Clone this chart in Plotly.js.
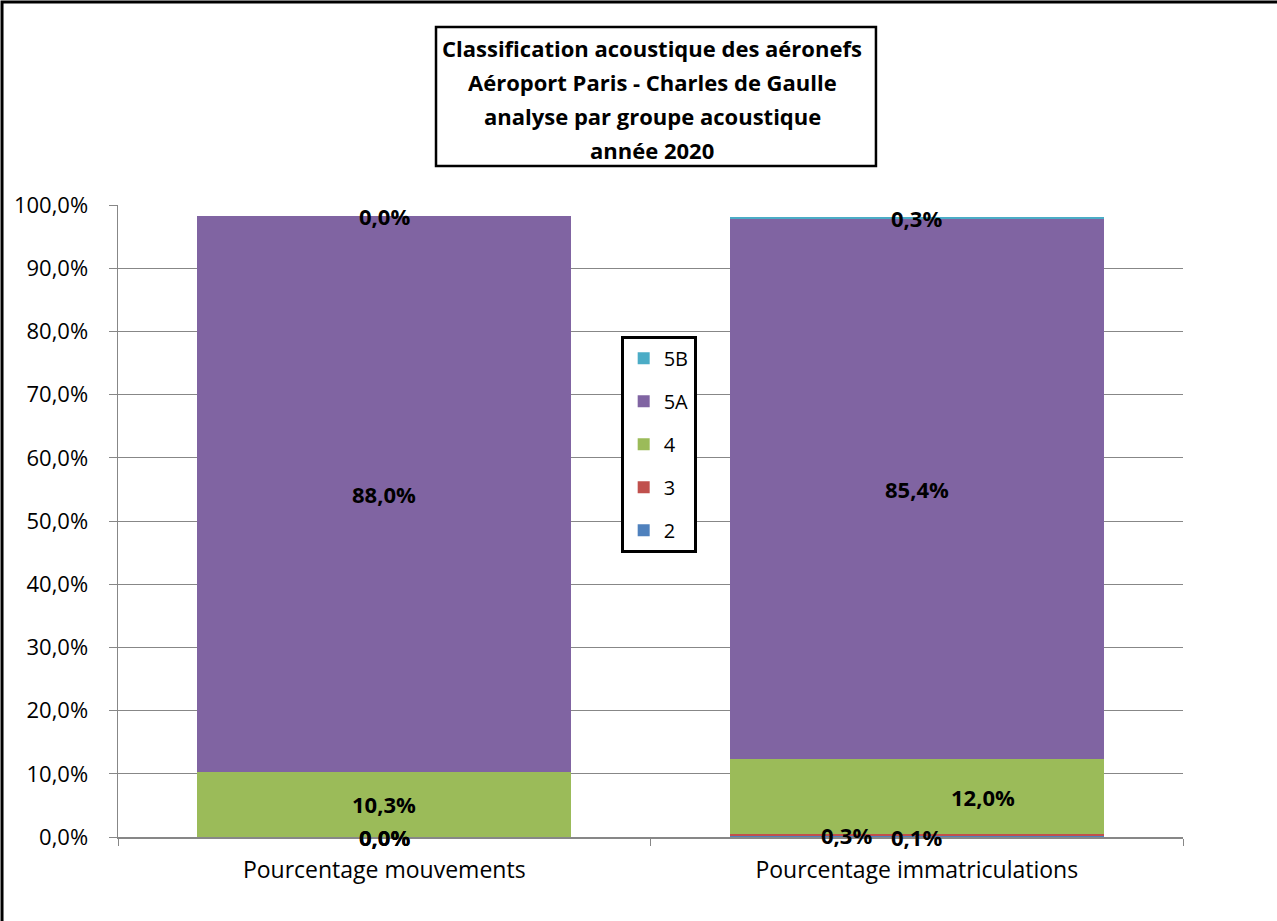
<!DOCTYPE html>
<html>
<head>
<meta charset="utf-8">
<script src="https://cdn.plot.ly/plotly-3.0.1.min.js"></script>
<style>html,body{margin:0;padding:0;background:#fff;}#chart{width:1277px;height:921px;}</style>
</head>
<body>
<div id="chart"></div>
<script>
// ---- data ----
const categories = ["Pourcentage mouvements", "Pourcentage immatriculations"];
const seriesNames = ["2", "3", "4", "5A", "5B"];
const values2  = [0.0, 0.1];
const values3  = [0.0, 0.3];
const values4  = [10.3, 12.0];
const values5A = [88.0, 85.4];
const values5B = [0.0, 0.3];
const yTicks = [0, 10, 20, 30, 40, 50, 60, 70, 80, 90, 100];
const titleLines = [
  "Classification acoustique des aéronefs",
  "Aéroport Paris - Charles de Gaulle",
  "analyse par groupe acoustique",
  "année 2020"
];

// ---- styles ----
const colors = ["#4F81BD", "#C0504D", "#9BBB59", "#8064A2", "#4BACC6"];
const FONT = "Open Sans, Lato, sans-serif";
const allSeries = [values2, values3, values4, values5A, values5B];
// label x offsets (px) per series per category, mimicking hand-moved labels
const labelShift = [[0, 0], [0, -70], [0, 66], [0, 0], [0, 0]];

const fmt = v => v.toFixed(1).replace(".", ",") + "%";

const traces = allSeries.map((vals, i) => ({
  type: "bar",
  name: seriesNames[i],
  x: categories,
  y: vals,
  marker: {color: colors[i]},
  legendgroup: "g" + i,
  legendrank: 100 - i,
  hoverinfo: "none"
}));

const annotations = [];
const cum = categories.map(() => 0);
allSeries.forEach((vals, i) => {
  vals.forEach((v, j) => {
    annotations.push({
      x: categories[j], y: cum[j] + v / 2, xref: "x", yref: "y",
      text: "<b>" + fmt(v) + "</b>", showarrow: false,
      xshift: labelShift[i][j], yanchor: "middle",
      font: {family: FONT, size: 22, color: "#000"}
    });
    cum[j] += v;
  });
});
titleLines.forEach((t, k) => {
  annotations.push({
    x: 0.5017, y: 1.2484 - k * 0.0538, xref: "paper", yref: "paper",
    xanchor: "center", yanchor: "middle",
    text: "<b>" + t + "</b>", showarrow: false,
    font: {family: FONT, size: 22, color: "#000"}
  });
});

const layout = {
  width: 1277, height: 921,
  margin: {l: 118, r: 94, t: 205, b: 84},
  paper_bgcolor: "#fff", plot_bgcolor: "#fff",
  barmode: "stack",
  bargap: 0.297,
  showlegend: true,
  font: {family: FONT, size: 19, color: "#000"},
  xaxis: {
    type: "category",
    showline: true, linecolor: "#878787", linewidth: 1.5,
    ticks: "outside", tickson: "boundaries", ticklen: 7, tickcolor: "#878787",
    ticklabelstandoff: 12,
    tickfont: {family: FONT, size: 23, color: "#000"},
    showgrid: false, fixedrange: true
  },
  yaxis: {
    range: [0, 100],
    tickvals: yTicks,
    ticktext: yTicks.map(fmt),
    showline: true, linecolor: "#878787", linewidth: 1.5,
    ticks: "outside", ticklen: 8, tickcolor: "#878787",
    ticklabelstandoff: 16,
    showgrid: true, gridcolor: "#878787", gridwidth: 1,
    zeroline: false,
    tickfont: {family: FONT, size: 22, color: "#000"},
    fixedrange: true
  },
  legend: {
    x: 0.472, y: 0.793, xanchor: "left", yanchor: "top",
    bgcolor: "#fff", bordercolor: "#000", borderwidth: 3,
    traceorder: "grouped", tracegroupgap: 14,
    itemwidth: 30,
    font: {family: FONT, size: 20, color: "#000"}
  },
  shapes: [
    {type: "rect", xref: "paper", yref: "paper",
     x0: 0.2986, x1: 0.7117, y0: 1.0617, y1: 1.2816,
     line: {color: "#000", width: 2.5}, fillcolor: "rgba(0,0,0,0)"},
    {type: "rect", xref: "paper", yref: "paper",
     x0: -0.1089, x1: 1.1, y0: -0.147, y1: 1.3212,
     line: {color: "#000", width: 3}, fillcolor: "rgba(0,0,0,0)"}
  ],
  annotations: annotations
};

Plotly.newPlot("chart", traces, layout, {displayModeBar: false, staticPlot: true});
</script>
</body>
</html>
